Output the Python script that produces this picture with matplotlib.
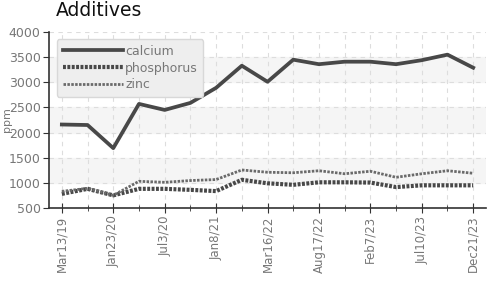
import matplotlib.pyplot as plt
from matplotlib.ticker import MultipleLocator

dates = ['Mar13/19', 'Jan23/20', 'Jul3/20', 'Jan8/21', 'Mar16/22',
         'Aug17/22', 'Feb7/23', 'Jul10/23', 'Dec21/23']

calcium = [2160, 2150, 1690, 2570, 2450, 2590, 2890, 3330, 3010,
           3450, 3360, 3410, 3410, 3360, 3440, 3550, 3290]
phosphorus = [780, 880, 750, 880, 880, 860, 835, 1060, 990,
              960, 1010, 1010, 1005, 915, 950, 950, 950]
zinc = [830, 890, 750, 1030, 1010, 1045, 1065, 1255, 1210,
        1200, 1240, 1180, 1230, 1110, 1180, 1240, 1190]

fig = plt.figure(figsize=(4.88, 2.81), dpi=100)
ax = fig.add_axes([0.1004, 0.26, 0.8956, 0.626])

for lo in (1000, 2000, 3000):
    ax.axhspan(lo, lo + 500, color='#f5f5f5', zorder=0)

x = range(len(calcium))
ax.plot(x, calcium, color='#484848', lw=2.7, label='calcium', zorder=3)
ax.plot(x, phosphorus, color='#484848', lw=3, ls=(0, (0.7, 0.35)),
        label='phosphorus', zorder=3)
ax.plot(x, zinc, color='#6a6a6a', lw=2, ls=(0, (0.9, 0.5)),
        label='zinc', zorder=3)

ax.set_xlim(-0.5, len(calcium) - 0.5)
ax.set_ylim(500, 4000)
ax.yaxis.set_major_locator(MultipleLocator(500))
ax.xaxis.set_minor_locator(MultipleLocator(1))
ax.set_xticks(range(0, len(calcium), 2))
ax.set_xticklabels(dates, rotation=90, color='#777777', fontsize=8.5)
for t in ax.get_yticklabels():
    t.set_color('#777777')
    t.set_fontsize(9)

ax.grid(True, which='both', ls=(0, (4, 4)), color='#dddddd', lw=0.8)
ax.set_axisbelow(True)
for s in ('top', 'right'):
    ax.spines[s].set_visible(False)
for s in ('left', 'bottom'):
    ax.spines[s].set_color('#333333')
    ax.spines[s].set_linewidth(1.2)
ax.tick_params(axis='x', which='major', direction='inout', length=7,
               color='#333333', pad=2)
ax.tick_params(axis='x', which='minor', direction='inout', length=4,
               color='#333333')
ax.tick_params(axis='y', direction='out', length=4, color='#333333', pad=2)

ax.set_ylabel('ppm', color='#777777', fontsize=8)
ax.yaxis.set_label_coords(-0.085, 0.5)

leg = ax.legend(loc='upper left', bbox_to_anchor=(0.004, 0.995),
                frameon=True, fancybox=True, handlelength=4.8,
                handletextpad=0.2, labelspacing=0.3, borderpad=0.45,
                prop={'size': 9})
leg.get_frame().set_facecolor('#eeeeee')
leg.get_frame().set_edgecolor('#d8d8d8')
leg.get_frame().set_alpha(1)
for t in leg.get_texts():
    t.set_color('#777777')

fig.text(0.115, 0.995, 'Additives', fontsize=13.5, va='top', ha='left',
         color='#111111')

fig.savefig('out.png', dpi=100)
